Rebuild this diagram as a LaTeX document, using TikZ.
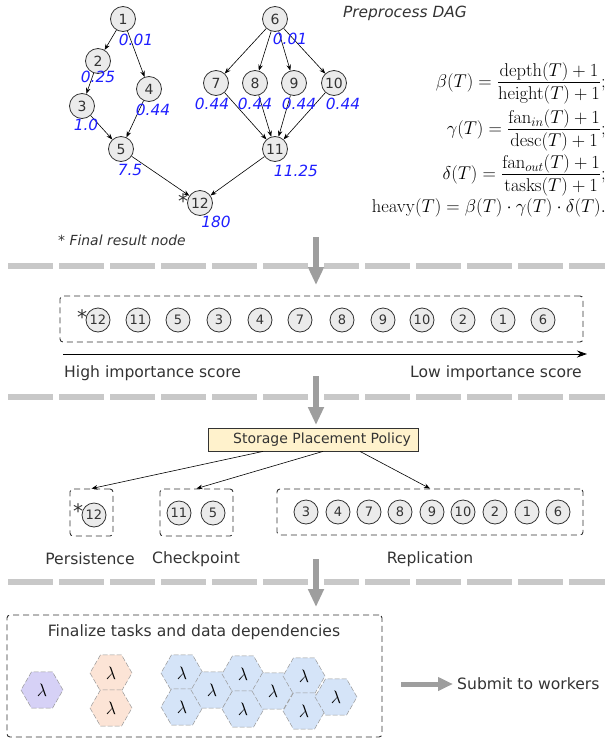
\documentclass[tikz,border=0pt]{standalone}
\usepackage{fix-cm}
\usepackage{amsmath}
\usepackage[no-math]{fontspec}
\setmainfont{DejaVu Sans}
\usetikzlibrary{arrows.meta,shapes.geometric}

\definecolor{ink}{HTML}{333333}
\definecolor{nodefill}{HTML}{EBEBEB}
\definecolor{scoreblue}{HTML}{1F1FFF}
\definecolor{sepgray}{HTML}{C8C8C8}
\definecolor{flowgray}{HTML}{9E9E9E}
\definecolor{policyfill}{HTML}{FFF2CC}
\definecolor{hexpurple}{HTML}{D6D1F6}
\definecolor{hexorange}{HTML}{FCE4D6}
\definecolor{hexblue}{HTML}{D5E4F8}

% fraction with full-size numerator and denominator, set compactly
\newcommand{\tightfrac}[2]{\frac{\textstyle #1\vrule depth 0.3em width 0pt}%
  {\textstyle\vrule height 0.82em width 0pt #2}}

\tikzset{
  dagnode/.style={circle, draw=ink, line width=0.8pt, fill=nodefill, minimum size=25pt,
    inner sep=0pt, text=ink, font=\fontsize{14}{14}\selectfont},
  ranknode/.style={circle, draw=ink, line width=0.8pt, fill=nodefill, minimum size=24pt,
    inner sep=0pt, text=ink, font=\fontsize{13}{13}\selectfont},
  score/.style={text=scoreblue, inner sep=0pt, font=\fontsize{15.4}{15.4}\selectfont\itshape},
  star/.style={text=ink, inner sep=0pt, font=\fontsize{20}{20}\selectfont},
  caption/.style={text=ink, inner sep=0pt, font=\fontsize{15.6}{15.6}\selectfont},
  edge/.style={-{Stealth[length=6pt,width=4.5pt]}, line width=0.6pt, black},
  groupbox/.style={draw=ink, line width=0.9pt, dash pattern=on 6pt off 4pt,
    rounded corners=3pt, inner sep=0pt},
  flowarrow/.style={draw=flowgray, line width=6pt,
    -{Triangle[length=18pt,width=15pt]},
    preaction={draw=white, line width=16pt, arrows=-}},
  separator/.style={draw=sepgray, line width=6pt, dash pattern=on 45pt off 6pt},
  hex/.style={regular polygon, regular polygon sides=6,
    minimum size=42pt, inner sep=0pt, draw=black!40, line width=0.5pt,
    dash pattern=on 5pt off 2pt, font=\fontsize{18}{18}\selectfont},
  mathline/.style={anchor=east, inner sep=0pt, font=\fontsize{18.5}{21}\selectfont}
}

\begin{document}
\begin{tikzpicture}[x=1pt,y=-1pt]
\useasboundingbox (0,0) rectangle (605,742);

% ---------- DAG ----------
\node[font=\fontsize{15.4}{15.4}\selectfont\itshape, text=ink] (title) at (405,13) {Preprocess DAG};

\node[dagnode] (n1)  at (123,19)  {1};
\node[dagnode] (n2)  at (98,61)   {2};
\node[dagnode] (n3)  at (82,106)  {3};
\node[dagnode] (n4)  at (149,89)  {4};
\node[dagnode] (n5)  at (121,149) {5};
\node[dagnode] (n12) at (200,203) {12};
\node[dagnode] (n6)  at (275,19)  {6};
\node[dagnode] (n7)  at (216,83)  {7};
\node[dagnode] (n8)  at (255,83)  {8};
\node[dagnode] (n9)  at (294,83)  {9};
\node[dagnode] (n10) at (334,83)  {10};
\node[dagnode] (n11) at (275,149) {11};

\draw[edge] (n1) -- (n2);
\draw[edge] (n1) -- (n4);
\draw[edge] (n2) -- (n3);
\draw[edge] (n3) -- (n5);
\draw[edge] (n4) -- (n5);
\draw[edge] (n5) -- (n12);
\draw[edge] (n6) -- (n7);
\draw[edge] (n6) -- (n8);
\draw[edge] (n6) -- (n9);
\draw[edge] (n6) -- (n10);
\draw[edge] (n7) -- (n11);
\draw[edge] (n8) -- (n11);
\draw[edge] (n9) -- (n11);
\draw[edge] (n10) -- (n11);
\draw[edge] (n11) -- (n12);

\node[score] (s1)  at (136,40)  {0.01};
\node[score] (s2)  at (98,77)   {0.25};
\node[score] (s3)  at (86,125)  {1.0};
\node[score] (s4)  at (153,110) {0.44};
\node[score] (s5)  at (130,170) {7.5};
\node[score] (s12) at (216,222) {180};
\node[score] (s6)  at (290,39)  {0.01};
\node[score] (s7)  at (212,104) {0.44};
\node[score] (s8)  at (255,104) {0.44};
\node[score] (s9)  at (299,104) {0.44};
\node[score] (s10) at (343,104) {0.44};
\node[score] (s11) at (296,171) {11.25};

\node[star] (st1) at (183,201) {*};
\node[font=\fontsize{13.9}{13.9}\selectfont\itshape, text=ink] (note) at (122,240) {* Final result node};

% ---------- importance formulas ----------
\node[mathline] (fbeta)  at (606,83)
  {$\beta(T) = \tightfrac{\mathrm{depth}(T)+1}{\mathrm{height}(T)+1};$};
\node[mathline] (fgamma) at (606,130)
  {$\gamma(T) = \tightfrac{\mathrm{fan}_{in}(T)+1}{\mathrm{desc}(T)+1};$};
\node[mathline] (fdelta) at (606,175)
  {$\delta(T) = \tightfrac{\mathrm{fan}_{out}(T)+1}{\mathrm{tasks}(T)+1};$};
\node[mathline] (fheavy) at (606,208)
  {$\mathrm{heavy}(T) = \beta(T)\cdot\gamma(T)\cdot\delta(T).$};

% ---------- separators and flow arrows ----------
\coordinate (sepAl) at (8,266);   \coordinate (sepAr) at (605,266);
\coordinate (sepBl) at (8,397);   \coordinate (sepBr) at (605,397);
\coordinate (sepCl) at (8,582);   \coordinate (sepCr) at (605,582);
\draw[separator] (sepAl) -- (sepAr);
\draw[separator] (sepBl) -- (sepBr);
\draw[separator] (sepCl) -- (sepCr);

\coordinate (fa1s) at (316,237); \coordinate (fa1e) at (316,285);
\coordinate (fa2s) at (316,376); \coordinate (fa2e) at (316,425);
\coordinate (fa3s) at (316,559); \coordinate (fa3e) at (316,607);
\draw[flowarrow] (fa1s) -- (fa1e);
\draw[flowarrow] (fa2s) -- (fa2e);
\draw[flowarrow] (fa3s) -- (fa3e);

% ---------- ranking ----------
\node[groupbox, minimum width=523pt, minimum height=46pt] (rankbox) at (321.5,319) {};
\node[ranknode] (r12) at (98,320)  {12};
\node[ranknode] (r11) at (138,320) {11};
\node[ranknode] (r5)  at (178,320) {5};
\node[ranknode] (r3)  at (219,320) {3};
\node[ranknode] (r4)  at (260,320) {4};
\node[ranknode] (r7)  at (300,320) {7};
\node[ranknode] (r8)  at (342,320) {8};
\node[ranknode] (r9)  at (383,320) {9};
\node[ranknode] (r10) at (422,320) {10};
\node[ranknode] (r2)  at (463,320) {2};
\node[ranknode] (r1)  at (503,320) {1};
\node[ranknode] (r6)  at (543,320) {6};
\node[star] (st2) at (82,317) {*};

\coordinate (axisL) at (63,354);
\coordinate (axisR) at (587,354);
\draw[-{Stealth[length=10pt,width=7pt]}, line width=0.9pt, black] (axisL) -- (axisR);
\node[caption, anchor=west] (high) at (64,373) {High importance score};
\node[caption, anchor=east] (low)  at (582,373) {Low importance score};

% ---------- storage placement ----------
\node[draw=ink, line width=0.8pt, fill=policyfill, minimum width=210pt, minimum height=23pt,
  inner sep=0pt] (policy) at (313,439.5) {};
\node[anchor=west, inner sep=0pt, text=ink, font=\fontsize{14}{14}\selectfont]
  (policytext) at (233,439.5) {Storage Placement Policy};

\node[groupbox, minimum width=43pt, minimum height=47pt]  (pbox) at (91.5,512.5) {};
\node[groupbox, minimum width=73pt, minimum height=47pt]  (cbox) at (196.5,512.5) {};
\node[groupbox, minimum width=306pt, minimum height=46pt] (rbox) at (430,512) {};

\draw[edge] ([xshift=-50pt]policy.south) -- (pbox.north);
\draw[edge] ([xshift=10pt]policy.south) -- (cbox.north);
\draw[edge] ([xshift=47pt]policy.south) -- (rbox.north);

\node[ranknode] (p12) at (94,515)  {12};
\node[star] (st3) at (78,511) {*};
\node[ranknode] (c11) at (179,513) {11};
\node[ranknode] (c5)  at (213,513) {5};

\node[ranknode] (q3)  at (306,512) {3};
\node[ranknode] (q4)  at (338,512) {4};
\node[ranknode] (q7)  at (369,512) {7};
\node[ranknode] (q8)  at (400,512) {8};
\node[ranknode] (q9)  at (432,512) {9};
\node[ranknode] (q10) at (463,512) {10};
\node[ranknode] (q2)  at (495,512) {2};
\node[ranknode] (q1)  at (527,512) {1};
\node[ranknode] (q6)  at (558,512) {6};

\node[caption] (lpers) at (90,559)  {Persistence};
\node[caption] (lchk)  at (196,559) {Checkpoint};
\node[caption] (lrep)  at (430,559) {Replication};

% ---------- finalized tasks ----------
\node[groupbox, minimum width=375pt, minimum height=122pt] (finalbox) at (194.5,676) {};
\node[caption] (lfinal) at (194,632) {Finalize tasks and data dependencies};

\node[hex, fill=hexpurple] (h0) at (42,690) {$\lambda$};
\node[hex, fill=hexorange] (o1) at (111,673) {$\lambda$};
\node[hex, fill=hexorange] (o2) at (111,708) {$\lambda$};

\node[hex, fill=hexblue] (b1) at (182,673) {$\lambda$};
\node[hex, fill=hexblue] (b2) at (182,707) {$\lambda$};
\node[hex, fill=hexblue] (b3) at (212,690) {$\lambda$};
\node[hex, fill=hexblue] (b4) at (243,674) {$\lambda$};
\node[hex, fill=hexblue] (b5) at (243,709) {$\lambda$};
\node[hex, fill=hexblue] (b6) at (273,691) {$\lambda$};
\node[hex, fill=hexblue] (b7) at (304,676) {$\lambda$};
\node[hex, fill=hexblue] (b8) at (304,711) {$\lambda$};
\node[hex, fill=hexblue] (b9) at (336,697) {$\lambda$};

\coordinate (subS) at (401,684);
\coordinate (subE) at (453,684);
\draw[draw=flowgray, line width=5pt, -{Triangle[length=15pt,width=13pt]}] (subS) -- (subE);
\node[caption, anchor=west] (submit) at (457,684) {Submit to workers};

\end{tikzpicture}
\end{document}
